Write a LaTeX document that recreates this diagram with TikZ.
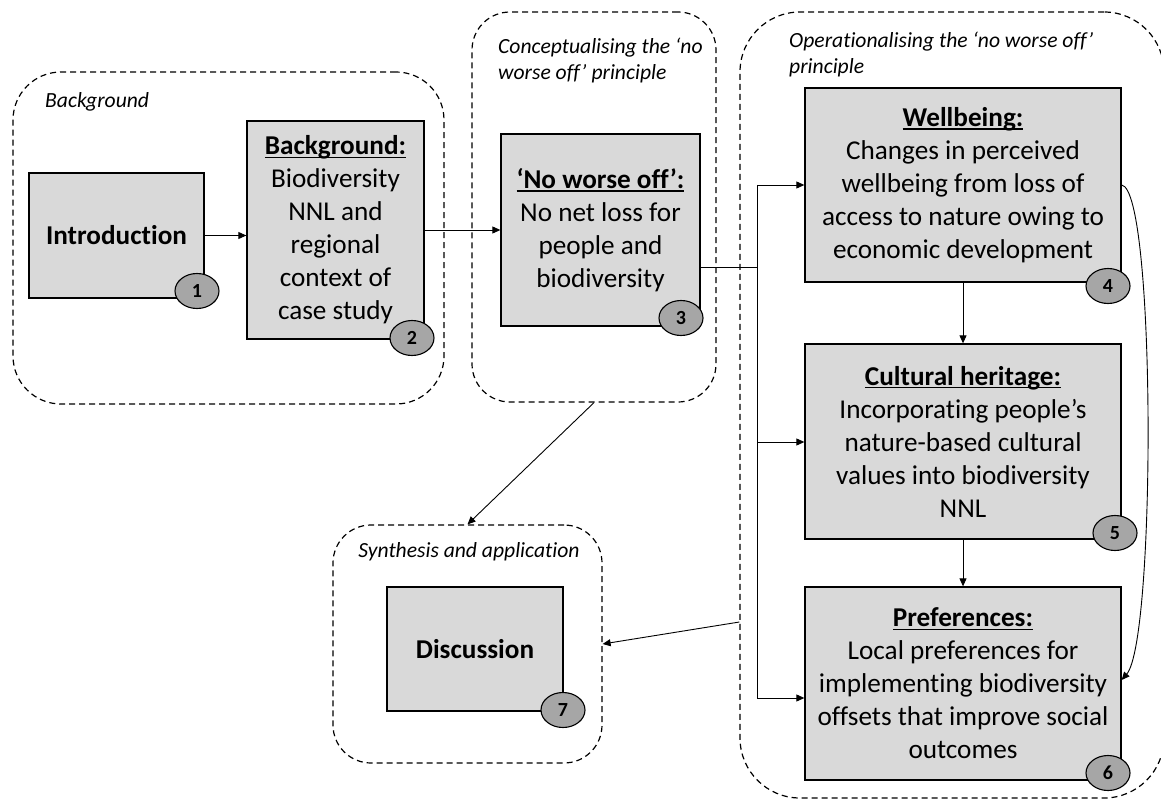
\documentclass[tikz,border=0pt]{standalone}
\usepackage{fontspec}
\setmainfont{Carlito}[Ligatures=NoCommon]
\usetikzlibrary{arrows.meta,shapes.geometric}
\definecolor{boxgray}{HTML}{D9D9D9}
\definecolor{numgray}{HTML}{A6A6A6}
\newcommand\myul[1]{\leavevmode\setbox0=\hbox{#1}\rlap{\rule[-3.4pt]{\wd0}{1.5pt}}\box0}
\tikzset{
  boxnode/.style={draw=black, line width=1.3pt, fill=boxgray, inner sep=0pt, align=center,
    font=\fontsize{27.2}{33}\selectfont},
  numnode/.style={ellipse, draw=black, fill=numgray, line width=1.1pt, minimum width=44pt,
    minimum height=35pt, inner sep=0pt, font=\fontsize{20}{22}\selectfont\bfseries},
  grpnode/.style={draw=black, dash pattern=on 6pt off 4pt, line width=1.2pt, inner sep=0pt},
  grplabel/.style={font=\fontsize{21.6}{26}\selectfont\itshape, inner sep=0pt, align=left},
  conn/.style={draw=black, line width=0.9pt},
  arr/.style={conn, -{Triangle[length=8pt,width=7pt]}}
}
\begin{document}
\begin{tikzpicture}[x=1pt,y=-1pt]
\useasboundingbox (0,0) rectangle (1161,802);
% groups
\node[grpnode, rounded corners=48pt, minimum width=431pt, minimum height=332pt] (gbg) at (228.5,238) {};
\node[grpnode, rounded corners=38pt, minimum width=244pt, minimum height=390pt] (gcon) at (594,207) {};
\node[grpnode, rounded corners=60pt, minimum width=424pt, minimum height=786pt] (gop) at (952,405) {};
\node[grpnode, rounded corners=38pt, minimum width=269pt, minimum height=238pt] (gsyn) at (467.5,644) {};
% group labels
\node[grplabel, anchor=west] (lbg) at (45,102) {Background};
\node[grplabel, anchor=west] (lcon) at (498,60) {Conceptualising the ‘no\\worse off’ principle};
\node[grplabel, anchor=west] (lop) at (789,54) {Operationalising the ‘no worse off’\\principle};
\node[grplabel] (lsyn) at (469,552) {Synthesis and application};
% boxes
\node[boxnode, minimum width=175pt, minimum height=125pt] (intro) at (116.5,235.5) {\textbf{Introduction}};
\node[boxnode, minimum width=177pt, minimum height=218pt] (bg) at (335.5,230) {\myul{\textbf{Background:}}\\Biodiversity\\NNL and\\regional\\context of\\case study};
\node[boxnode, minimum width=199pt, minimum height=192pt] (nwo) at (600.5,230) {\myul{\textbf{‘No worse off’:}}\\No net loss for\\people and\\biodiversity};
\node[boxnode, minimum width=316pt, minimum height=194pt] (well) at (963,185) {\myul{\textbf{Wellbeing:}}\\Changes in perceived\\wellbeing from loss of\\access to nature owing to\\economic development};
\node[boxnode, minimum width=316pt, minimum height=195pt] (cult) at (963,441.5) {\myul{\textbf{Cultural heritage:}}\\Incorporating people’s\\nature-based cultural\\values into biodiversity\\NNL};
\node[boxnode, minimum width=316pt, minimum height=193pt] (pref) at (963,683.5) {\myul{\textbf{Preferences:}}\\Local preferences for\\implementing biodiversity\\offsets that improve social\\outcomes};
\node[boxnode, minimum width=176pt, minimum height=124pt] (disc) at (475,649) {\textbf{Discussion}};
% numbers
\node[numnode] (n1) at (197,291) {1};
\node[numnode] (n2) at (412,338) {2};
\node[numnode] (n3) at (681,318) {3};
\node[numnode] (n4) at (1108,286) {4};
\node[numnode] (n5) at (1115,533) {5};
\node[numnode] (n6) at (1108,773) {6};
\node[numnode] (n7) at (563,710) {7};
% junction coordinates
\coordinate (jn) at (757,267);
\coordinate (jt) at (757,185);
\coordinate (jm) at (757,442);
\coordinate (jb) at (757,698);
% connectors
\draw[arr] (intro.east) -- (intro.east -| bg.west);
\draw[arr] (bg.east) -- (nwo.west);
\draw[conn] ([yshift=-37pt]nwo.east) -- (jn);
\draw[conn] (jt) -- (jb);
\draw[arr] (jt) -- (jt -| well.west);
\draw[arr] (jm) -- (jm -| cult.west);
\draw[arr] (jb) -- (jb -| pref.west);
\draw[arr] (well.south) -- (cult.north);
\draw[arr] (cult.south) -- (pref.north);
\draw[arr] (well.east) .. controls (1156,190) and (1156,640) .. ([yshift=3.5pt]pref.east);
\draw[arr] (gcon.south) -- (gsyn.north);
\draw[arr] ([yshift=-217pt]gop.west) -- (gsyn.east);
\end{tikzpicture}
\end{document}
